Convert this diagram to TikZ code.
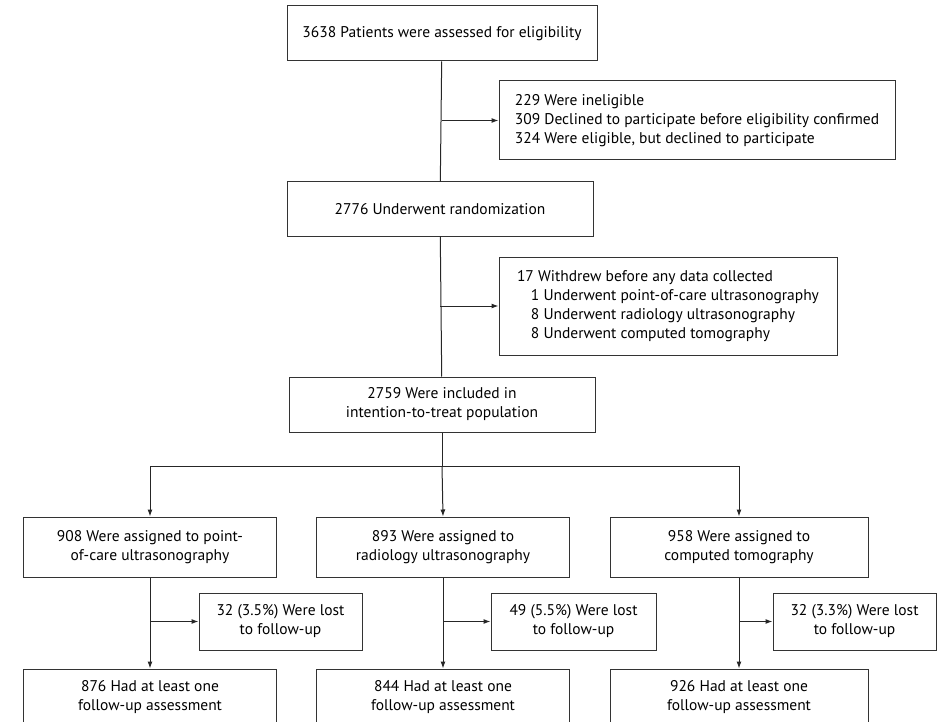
\documentclass[tikz,border=0pt]{standalone}
\usepackage{fontspec}
\setmainfont{PT Sans}
\usetikzlibrary{positioning}
\usetikzlibrary{arrows.meta}

\begin{document}
\begin{tikzpicture}[x=1pt,y=-1pt]
\tikzset{box/.style={draw=black!80,line width=1pt,align=center,inner sep=0pt,font=\fontsize{15.5}{19}\selectfont}}
\tikzset{side/.style={box,align=left}}
\tikzset{arr/.style={draw=black!85,line width=1pt,-{Latex[length=7pt,width=5pt]}}}
\tikzset{link/.style={draw=black!85,line width=1pt}}
\clip (0,0) rectangle (939,722);
        % main column
        \node[box,minimum width=310pt,minimum height=55pt] (assessed) at (442,33.5) {3638 Patients were assessed for eligibility};
        \node[side,minimum width=396pt,minimum height=79pt] (excluded) at (697,120.5) {229 Were ineligible\\309 Declined to participate before eligibility confirmed\\324 Were eligible, but declined to participate};
        \node[box,minimum width=306pt,minimum height=54pt] (random) at (440,209) {2776 Underwent randomization};
        \node[side,minimum width=338pt,minimum height=98pt] (withdrew) at (668,306) {17 Withdrew before any data collected\\\hspace*{0.9em}1 Underwent point-of-care ultrasonography\\\hspace*{0.9em}8 Underwent radiology ultrasonography\\\hspace*{0.9em}8 Underwent computed tomography};
        \node[box,minimum width=306pt,minimum height=55pt] (itt) at (442,404.5) {2759 Were included in\\intention-to-treat population};
            \path[link] (assessed) -- (random);
            \path[arr] (assessed.south |- excluded.west) -- (excluded.west);
            \path[link] (random) -- (itt);
            \path[arr] (random.south |- withdrew.west) -- (withdrew.west);
        % arms
        \coordinate (split) at (442,466);
        \node[box,minimum width=253pt,minimum height=60pt] (pocus) at (150,547) {908 Were assigned to point-\\of-care ultrasonography};
        \node[box,minimum width=253pt,minimum height=60pt] (radus) at (443,547) {893 Were assigned to\\radiology ultrasonography};
        \node[box,minimum width=258pt,minimum height=60pt] (ct) at (739,547) {958 Were assigned to\\computed tomography};
            \path[link] (itt) -- (split);
            \path[arr] (split) -| (pocus.north);
            \path[arr] (split) -- (radus.north);
            \path[arr] (split) -| (ct.north);
        % losses
        \node[box,minimum width=163pt,minimum height=57pt] (lostpocus) at (280.5,621.5) {32 (3.5\%) Were lost\\to follow-up};
        \node[box,minimum width=165pt,minimum height=57pt] (lostradus) at (573.5,621.5) {49 (5.5\%) Were lost\\to follow-up};
        \node[box,minimum width=163pt,minimum height=57pt] (lostct) at (854.5,621.5) {32 (3.3\%) Were lost\\to follow-up};
        % follow-up
        \node[box,minimum width=253pt,minimum height=56pt] (fupocus) at (150,697) {876 Had at least one\\follow-up assessment};
        \node[box,minimum width=253pt,minimum height=56pt] (furadus) at (443,697) {844 Had at least one\\follow-up assessment};
        \node[box,minimum width=258pt,minimum height=56pt] (fuct) at (739,697) {926 Had at least one\\follow-up assessment};
            \path[arr] (pocus) -- (fupocus);
            \path[arr] (radus) -- (furadus);
            \path[arr] (ct) -- (fuct);
            \path[arr] (pocus.south |- lostpocus.west) -- (lostpocus.west);
            \path[arr] (radus.south |- lostradus.west) -- (lostradus.west);
            \path[arr] (ct.south |- lostct.west) -- (lostct.west);
\end{tikzpicture}
\end{document}
